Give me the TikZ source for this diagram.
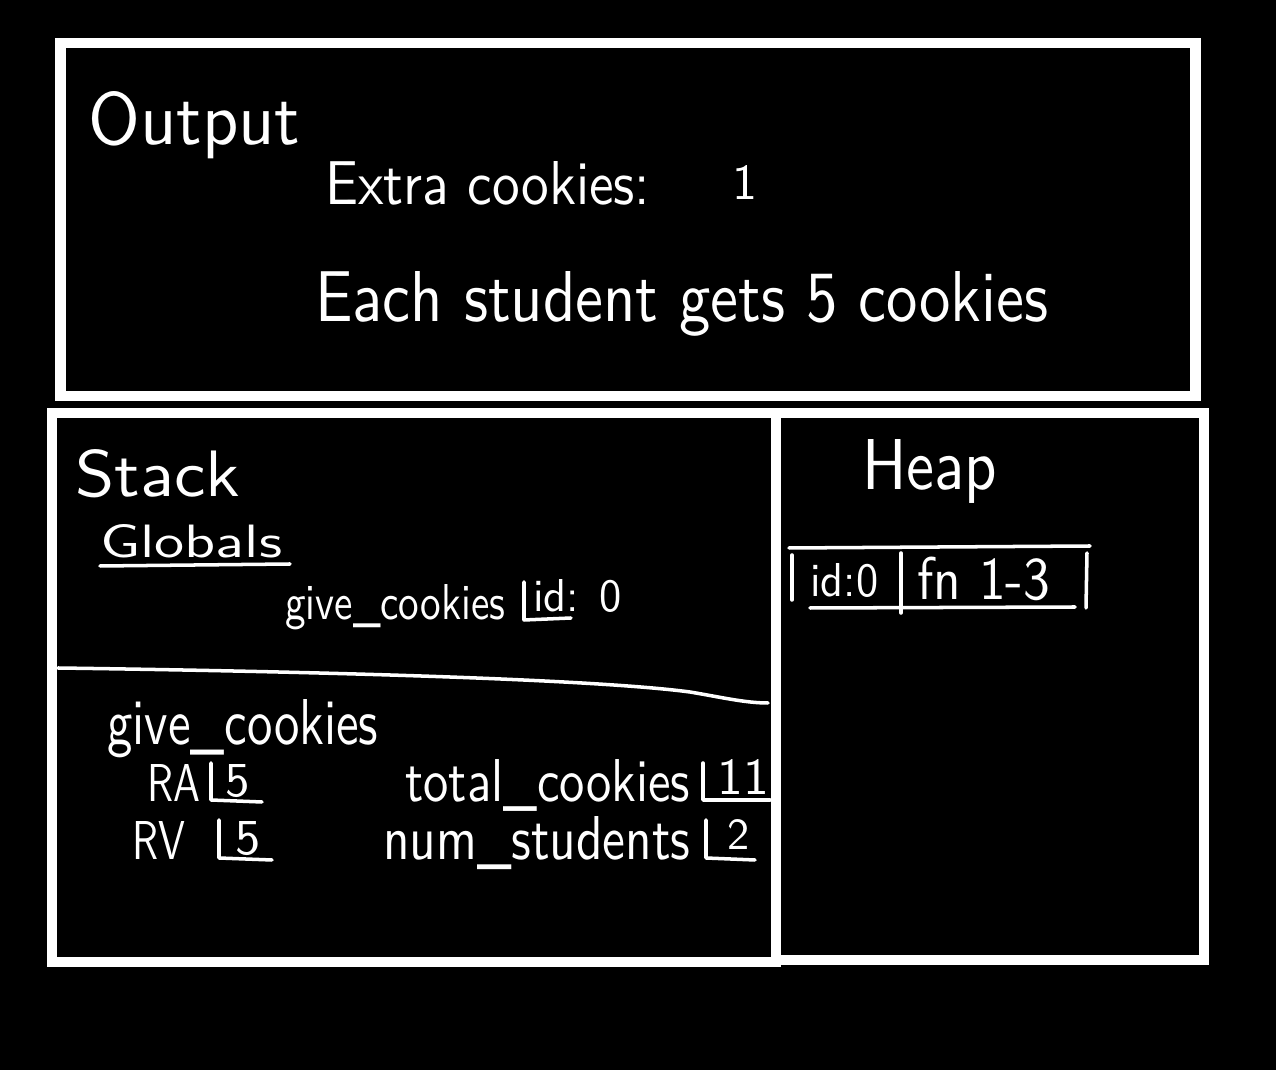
\documentclass[tikz,border=0pt]{standalone}
\usepackage{fontspec}
\usepackage{graphicx}
\begin{document}
\begin{tikzpicture}[x=0.02cm,y=-0.02cm,
  frame/.style={draw=white,line width=6.2pt},
  ink/.style={draw=white,line width=2pt,line cap=round,line join=round},
  lbl/.style={text=white,inner sep=0pt,anchor=base west,font=\sffamily}]
\fill[black] (0,0) rectangle (1276,1070);
\useasboundingbox (0,0) rectangle (1276,1070);
% frames
\draw[frame] (60.5,43) rectangle (1195.5,396);
\draw[frame] (52,413) rectangle (776,962);
\draw[frame] (776,413) rectangle (1204,960);
% output
\node[lbl] (out) at (88,145) {\resizebox{4.24cm}{1.06cm}{Output}};
\node[lbl] (extra) at (325,205) {\resizebox{6.5cm}{0.86cm}{Extra cookies:}};
\node[lbl] (one) at (732,200) {\resizebox{!}{0.68cm}{1}};
\node[lbl] (each) at (315,322) {\resizebox{14.66cm}{1.0cm}{Each student gets 5 cookies}};
% stack
\node[lbl] (stack) at (75,497) {\resizebox{3.3cm}{0.94cm}{Stack}};
\node[lbl] (glob) at (100,558) {\resizebox{3.64cm}{0.66cm}{Globals}};
\draw[ink] (100,566) -- (290,564);
\node[lbl] (gcg) at (285,620) {\resizebox{4.4cm}{0.7cm}{give\_cookies}};
\draw[ink] (524,582) -- (524,620) -- (571,618);
\node[lbl] (gid) at (533,612) {\resizebox{1.76cm}{0.64cm}{id: 0}};
\draw[ink] (58,668) .. controls (350,672) and (600,680) .. (690,692) .. controls (720,697) and (745,703) .. (768,703);
% frame give_cookies
\node[lbl] (gcf) at (107,745) {\resizebox{5.42cm}{0.9cm}{give\_cookies}};
\node[lbl] (ra) at (147,802) {\resizebox{1.06cm}{0.74cm}{RA}};
\draw[ink] (211,763) -- (211,800) -- (262,802);
\node[lbl] (ra5) at (225,797) {\resizebox{!}{0.64cm}{5}};
\node[lbl] (rv) at (132,860) {\resizebox{1.06cm}{0.76cm}{RV}};
\draw[ink] (219,820) -- (219,858) -- (272,860);
\node[lbl] (rv5) at (235,855) {\resizebox{!}{0.66cm}{5}};
\node[lbl] (tc) at (405,802) {\resizebox{5.7cm}{0.84cm}{total\_cookies}};
\draw[ink] (703,763) -- (703,800) -- (770,800);
\node[lbl] (tc11) at (717,795) {\resizebox{!}{0.7cm}{11}};
\node[lbl] (ns) at (383,860) {\resizebox{6.14cm}{0.86cm}{num\_students}};
\draw[ink] (706,820) -- (706,858) -- (755,860);
\node[lbl] (ns2) at (727,850) {\resizebox{!}{0.6cm}{2}};
% heap
\node[lbl] (heap) at (862,490) {\resizebox{2.7cm}{1.0cm}{Heap}};
\draw[ink] (789,548) -- (1090,546);
\draw[ink] (792,555) -- (792,600);
\draw[ink] (810,608) -- (1075,607);
\draw[ink] (901,553) -- (901,613);
\draw[ink] (1087,553) -- (1086,608);
\node[lbl] (hid) at (810,597) {\resizebox{1.36cm}{0.66cm}{id:0}};
\node[lbl] (hfn) at (917,600) {\resizebox{2.66cm}{0.85cm}{fn 1-3}};
\end{tikzpicture}
\end{document}
